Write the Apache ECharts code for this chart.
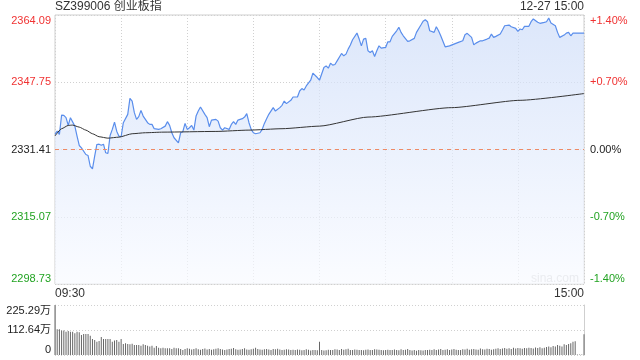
<!DOCTYPE html>
<html><head><meta charset="utf-8">
<script src="https://cdn.jsdelivr.net/npm/echarts@6/dist/echarts.min.js"></script>
<style>html,body{margin:0;padding:0;background:#fff}#c{width:640px;height:360px}</style>
</head><body><div id="c"></div>
<script>
const titleText = 'SZ399006 创业板指';
const dateText = '12-27 15:00';
const prevClose = 2331.41;
const priceStep = 16.34;
const priceTickLabels = ['2298.73','2315.07','2331.41','2347.75','2364.09'];
const pctTickLabels = ['-1.40%','-0.70%','0.00%','+0.70%','+1.40%'];
const timeTickMinutes = [0, 240];
const timeTickLabels = ['09:30', '15:00'];
const volMax = 225.29;
const volTickLabels = ['0', '112.64万', '225.29万'];

// [minute index from 09:30, price]
const pricePts = [[0,2335.07],[1,2335.87],[2,2335.07],[3,2339.78],[4,2339.70],[5,2339.14],[6,2337.26],[7,2339.14],[9,2337.09],[10,2334.65],[11,2332.39],[12,2331.82],[14,2330.19],[15,2329.95],[16,2327.34],[17,2326.70],[18,2329.78],[19,2332.63],[20,2332.70],[21,2332.46],[22,2332.70],[23,2330.61],[24,2330.43],[25,2334.82],[26,2336.29],[27,2338.07],[28,2335.87],[29,2334.65],[30,2334.51],[31,2337.92],[33,2339.95],[34,2343.85],[35,2343.19],[36,2340.36],[37,2338.73],[38,2339.39],[39,2340.92],[40,2339.53],[42,2337.92],[43,2337.51],[44,2337.51],[45,2336.46],[47,2336.29],[48,2336.46],[50,2337.09],[51,2338.17],[52,2337.26],[53,2335.48],[54,2334.26],[56,2333.04],[57,2335.48],[58,2335.73],[59,2337.75],[60,2336.29],[61,2336.70],[62,2337.26],[63,2336.12],[64,2339.53],[65,2340.75],[66,2341.73],[68,2339.95],[69,2339.14],[70,2336.95],[71,2338.56],[73,2338.73],[74,2338.31],[75,2336.70],[76,2336.12],[77,2336.70],[79,2336.29],[80,2337.51],[81,2338.17],[82,2337.51],[83,2338.56],[85,2338.90],[86,2339.29],[87,2340.12],[88,2337.92],[89,2336.29],[90,2335.48],[91,2335.24],[93,2335.48],[94,2336.29],[95,2337.75],[96,2338.90],[97,2339.95],[99,2341.58],[100,2340.75],[102,2341.58],[103,2342.14],[104,2343.19],[105,2342.56],[107,2343.36],[108,2344.17],[110,2344.17],[111,2345.63],[112,2346.21],[113,2345.87],[114,2346.85],[116,2348.24],[117,2349.95],[119,2348.90],[120,2348.24],[122,2351.34],[123,2351.73],[124,2351.17],[125,2352.39],[126,2351.90],[127,2352.07],[128,2352.95],[130,2354.75],[131,2354.17],[132,2354.58],[133,2355.80],[134,2356.78],[135,2358.07],[137,2359.70],[138,2358.24],[139,2356.60],[140,2358.24],[141,2358.41],[142,2355.39],[143,2355.00],[144,2355.39],[145,2354.02],[146,2355.39],[147,2356.60],[148,2356.04],[150,2356.21],[151,2357.58],[152,2357.58],[153,2358.90],[155,2360.26],[156,2361.09],[157,2359.87],[158,2359.04],[160,2357.68],[161,2357.82],[163,2358.41],[164,2359.87],[166,2361.65],[167,2362.56],[168,2362.95],[169,2362.46],[170,2360.26],[172,2359.87],[173,2361.24],[174,2360.26],[175,2359.04],[177,2356.36],[179,2356.60],[181,2357.02],[183,2357.43],[185,2357.82],[186,2359.29],[187,2359.63],[189,2358.65],[190,2356.85],[191,2357.26],[193,2357.82],[194,2357.82],[196,2358.24],[197,2358.48],[198,2359.46],[199,2358.65],[200,2358.90],[202,2359.46],[203,2360.43],[204,2361.48],[206,2361.65],[207,2361.24],[209,2360.85],[210,2360.12],[211,2360.68],[212,2360.51],[213,2361.34],[215,2361.34],[216,2362.46],[217,2363.12],[219,2362.31],[220,2362.07],[222,2362.31],[223,2362.46],[224,2363.36],[225,2362.14],[227,2361.48],[228,2359.87],[229,2358.65],[231,2359.21],[232,2359.70],[233,2359.87],[234,2359.04],[235,2359.70],[237,2359.70],[239,2359.70],[240,2359.70]];

const avgPts = [[0,2334.70],[3,2336.46],[6,2337.26],[8,2337.34],[11,2336.85],[14,2336.12],[17,2335.24],[20,2334.51],[24,2334.17],[29,2334.41],[35,2335.24],[41,2335.48],[49,2335.63],[73,2335.80],[88,2336.12],[103,2336.46],[120,2337.09],[142,2339.29],[180,2341.58],[211,2343.36],[240,2345.00]];

// volume per minute, in 万
const volumes = [225.29,116,116,110,110,105,108,105,105,98,105,102,90,95,95,95,87,72,68,60,63,81,72,72,72,72,60,65,68,60,72,50,53,50,48,51,45,45,45,42,48,45,42,38,42,33,41,33,30,33,30,30,30,27,33,30,30,27,23,
27,30,28,25,27,30,26,24,27,29,25,27,24,26,28,30,27,25,22,25,27,28,32,26,24,25,27,30,25,24,26,28,33,27,25,24,26,27,25,23,27,26,28,25,22,24,26,25,23,24,22,25,24,21,22,26,24,20,22,23,21,
60,
22,20,21,24,23,22,26,25,22,27,24,26,28,23,22,25,24,22,23,21,24,25,23,22,26,25,24,23,21,22,24,22,23,25,22,21,26,22,24,27,22,20,23,19,22,21,20,22,23,24,22,26,23,25,27,22,24,26,23,25,27,24,22,23,26,25,28,24,26,27,25,24,29,26,25,28,27,24,26,28,
30,27,29,31,28,30,27,33,29,31,30,28,32,30,33,31,29,34,32,35,30,33,36,38,35,40,38,45,42,38,48,45,50,53,60,62,
2,2,2,93];

const FONT = 'Arial, "Liberation Sans", "Noto Sans CJK SC", sans-serif';
const RED = '#f03232', GREEN = '#22a322', BLACK = '#222';
const priceIdx = v => Math.round(v / priceStep) + 2;
const priceColor = v => { const i = priceIdx(v); return i > 2 ? RED : (i < 2 ? GREEN : BLACK); };

const chart = echarts.init(document.getElementById('c'), null, {renderer: 'canvas'});
chart.setOption({
  animation: false,
  textStyle: {fontFamily: FONT},
  title: [
    {text: titleText, left: 55, top: 0, padding: 0, textStyle: {fontSize: 12, fontWeight: 'normal', color: '#333', fontFamily: FONT, lineHeight: 14}},
    {text: dateText, right: 56, top: 0, padding: 0, textStyle: {fontSize: 12, fontWeight: 'normal', color: '#333', fontFamily: FONT, lineHeight: 14}}
  ],
  graphic: [{type: 'text', left: 531, top: 273, silent: true, style: {text: 'sina.com', fill: '#cccccc', font: '12px ' + FONT}}],
  grid: [
    {left: 55, top: 15, width: 529, height: 269, show: true, borderColor: '#cfcfcf', borderWidth: 1, backgroundColor: 'transparent'},
    {left: 55, top: 305, width: 529, height: 50, show: false}
  ],
  xAxis: [
    {type: 'value', gridIndex: 0, min: 0, max: 240, interval: 30,
     axisLine: {show: false}, axisTick: {show: false},
     splitLine: {show: true, lineStyle: {color: '#d0d0d0', type: [1, 2], width: 1}},
     axisLabel: {show: true, margin: 4, fontSize: 12, color: '#333', fontFamily: FONT,
       alignMinLabel: 'left', alignMaxLabel: 'right',
       formatter: v => { const k = timeTickMinutes.indexOf(v); return k >= 0 ? timeTickLabels[k] : ''; }}},
    {type: 'value', gridIndex: 1, min: 0, max: 240, interval: 30,
     axisLine: {show: false}, axisTick: {show: false}, splitLine: {show: false}, axisLabel: {show: false}}
  ],
  yAxis: [
    {type: 'value', gridIndex: 0, position: 'left', min: -2 * priceStep, max: 2 * priceStep, interval: priceStep,
     axisLine: {show: false}, axisTick: {show: false},
     splitLine: {show: true, lineStyle: {color: '#d0d0d0', type: [1, 2], width: 1}},
     axisLabel: {margin: 4, fontSize: 11, fontFamily: FONT,
       verticalAlignMinLabel: 'bottom', verticalAlignMaxLabel: 'top',
       formatter: v => priceTickLabels[priceIdx(v)], color: v => priceColor(v)}},
    {type: 'value', gridIndex: 0, position: 'right', min: -2 * priceStep, max: 2 * priceStep, interval: priceStep,
     axisLine: {show: false}, axisTick: {show: false}, splitLine: {show: false},
     axisLabel: {margin: 6, fontSize: 11, fontFamily: FONT,
       verticalAlignMinLabel: 'bottom', verticalAlignMaxLabel: 'top',
       formatter: v => pctTickLabels[priceIdx(v)], color: v => priceColor(v)}},
    {type: 'value', gridIndex: 1, position: 'left', min: 0, max: volMax, interval: volMax / 2,
     axisLine: {show: true, lineStyle: {color: '#cfcfcf', width: 1}}, axisTick: {show: false},
     splitLine: {show: true, lineStyle: {color: '#d0d0d0', type: [1, 2], width: 1}},
     axisLabel: {margin: 4, fontSize: 11, color: '#222', fontFamily: FONT,
       verticalAlignMinLabel: 'bottom', verticalAlignMaxLabel: 'top',
       formatter: v => volTickLabels[Math.round(v / (volMax / 2))]}},
    {type: 'value', gridIndex: 1, position: 'right', min: 0, max: volMax, interval: volMax / 2,
     axisLine: {show: true, lineStyle: {color: '#cfcfcf', width: 1}}, axisTick: {show: false},
     splitLine: {show: false}, axisLabel: {show: false}}
  ],
  series: [
    {type: 'line', xAxisIndex: 0, yAxisIndex: 0, showSymbol: false, silent: true,
     data: pricePts.map(([m, p]) => [m, +(p - prevClose).toFixed(2)]),
     lineStyle: {color: '#5a8eec', width: 1.2},
     areaStyle: {origin: 'start', color: new echarts.graphic.LinearGradient(0, 0, 0, 1, [
       {offset: 0, color: '#cddcf8'}, {offset: 1, color: '#f8faff'}])},
     markLine: {silent: true, symbol: 'none', label: {show: false},
       lineStyle: {color: '#ee8a66', type: [4, 4], width: 1, opacity: 1},
       data: [{yAxis: 0}]},
     z: 3},
    {type: 'line', xAxisIndex: 0, yAxisIndex: 0, showSymbol: false, silent: true, smooth: 0.2, smoothMonotone: 'x',
     data: avgPts.map(([m, p]) => [m, +(p - prevClose).toFixed(2)]),
     lineStyle: {color: '#333', width: 1}, z: 4},
    {type: 'bar', xAxisIndex: 1, yAxisIndex: 2, silent: true, barWidth: 1,
     data: volumes.map((v, i) => [i, v]),
     itemStyle: {color: '#666'}}
  ]
});
</script></body></html>
